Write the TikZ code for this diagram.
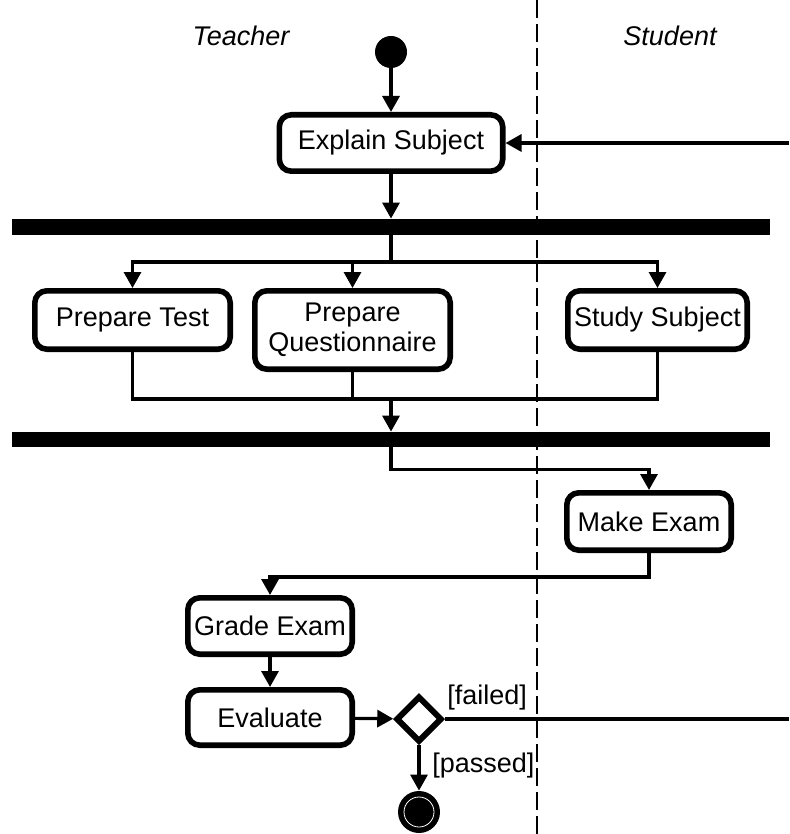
\documentclass[tikz,border=0pt]{standalone}
\usepackage{fontspec}
\setmainfont{Liberation Sans}
\usetikzlibrary{arrows.meta, calc, positioning, shapes.geometric}

\begin{document}
\begin{tikzpicture}[x=0.5pt, y=-0.5pt,
    font=\fontsize{13.5}{15}\selectfont,
    activite/.style={draw, line width=2.8pt, rounded corners=6pt, fill=white, align=center, inner sep=0pt},
    barre/.style={fill=black, inner sep=0pt, minimum width=379pt},
    flux/.style={line width=1.6pt, -{Triangle[length=8pt, width=8.5pt]}},
    lien/.style={line width=1.6pt},
    couloir/.style={line width=1pt, dash pattern=on 9pt off 3pt},
    garde/.style={inner sep=0pt, anchor=base west}
]
    % Cadre
    \useasboundingbox (0,0) rectangle (789,834);

    % Couloirs
    \draw[couloir] (537,0) -- (537,834);
    \node[font=\fontsize{13.5}{15}\selectfont\itshape] (teacher) at (241,36) {Teacher};
    \node[font=\fontsize{13.5}{15}\selectfont\itshape] (student) at (670,36) {Student};

    % Noeuds
    \node[circle, fill=black, inner sep=0pt, minimum size=16pt] (start) at (391,52) {};
    \node[activite, minimum width=111.7pt, minimum height=28.2pt] (explain) at (391,143) {Explain Subject};
    \node[barre, minimum height=8pt] (bar1) at (391,227) {};
    \node[activite, minimum width=97.7pt, minimum height=29.2pt] (prepTest) at (132.5,320) {Prepare Test};
    \node[activite, minimum width=97.7pt, minimum height=39.2pt] (prepQuest) at (352.5,330) {Prepare\\Questionnaire};
    \node[activite, minimum width=89.7pt, minimum height=29.2pt] (study) at (657.5,320) {Study Subject};
    \node[barre, minimum height=7.5pt] (bar2) at (391,439.5) {};
    \node[activite, minimum width=82.2pt, minimum height=28.7pt] (makeExam) at (649,521.5) {Make Exam};
    \node[activite, minimum width=82.2pt, minimum height=28.2pt] (grade) at (270,626) {Grade Exam};
    \node[activite, minimum width=82.2pt, minimum height=27.7pt] (evaluate) at (270,717.5) {Evaluate};
    \node[diamond, draw, line width=3pt, fill=white, inner sep=0pt, minimum size=23pt] (decision) at (419,719) {};
    \node[circle, fill=black, inner sep=0pt, minimum size=21pt] (final) at (419,812) {};
    \draw[white, line width=0.4pt] (final.center) circle (7.5pt);

    % Gardes
    \node[garde] (failed) at (447,704) {[failed]};
    \node[garde] (passed) at (432,772) {[passed]};

    % Points de passage
    \coordinate (retour) at (789,143);
    \coordinate (fourche) at (391,262);
    \coordinate (jonction) at (391,399);
    \coordinate (echec) at (789,719);

    % Flux
    \draw[flux] (start) -- (explain);
    \draw[flux] (retour) -- (explain);
    \draw[flux] (explain) -- (explain |- bar1.north);
    \draw[lien] (bar1.south -| fourche) -- (fourche);
    \draw[flux] (fourche) -| (prepTest);
    \draw[flux] (fourche) -| (prepQuest);
    \draw[flux] (fourche) -| (study);
    \draw[lien] (prepTest) |- (jonction);
    \draw[lien] (prepQuest) |- (jonction);
    \draw[lien] (study) |- (jonction);
    \draw[flux] (jonction) -- (jonction |- bar2.north);
    \draw[flux] (bar2.south -| jonction) -- ++(0,22) -| (makeExam);
    \draw[flux] (makeExam.south) -- ++(0,24) -| (grade);
    \draw[flux] (grade) -- (evaluate);
    \draw[flux] (evaluate) -- (decision);
    \draw[flux] (decision) -- (final);
    \draw[lien] (decision) -- (echec);

\end{tikzpicture}
\end{document}
